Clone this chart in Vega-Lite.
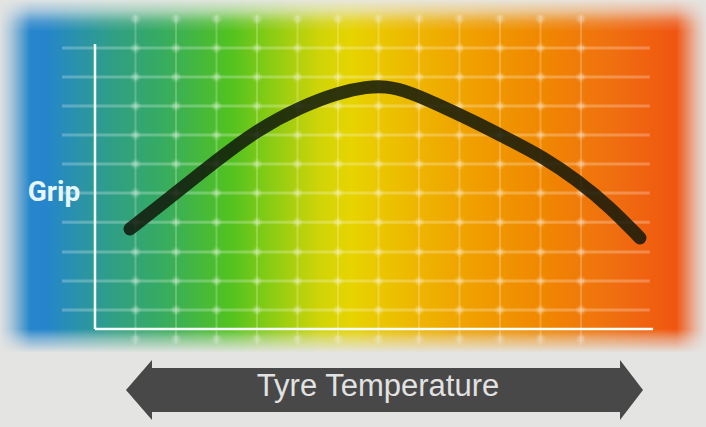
{
  "$schema": "https://vega.github.io/schema/vega-lite/v6.json",
  "width": 706,
  "height": 427,
  "autosize": "none",
  "padding": 0,
  "background": "#e4e4e2",
  "config": {"view": {"stroke": null}},
  "encoding": {
    "x": {"field": "x", "type": "quantitative", "axis": null, "scale": {"domain": [-2.3457, 15.0864], "nice": false, "zero": false}},
    "y": {"field": "y", "type": "quantitative", "axis": null, "scale": {"domain": [-3.3562, 11.2671], "nice": false, "zero": false}}
  },
  "layer": [
    {
      "data": {"values": [{"x": -2.3457, "x2": 15.0864, "y": -0.788, "y2": 11.2671}]},
      "mark": {"type": "rect", "fill": {"gradient": "linear", "x1": 0, "y1": 0, "x2": 1, "y2": 0, "stops": [
        {"offset": 0, "color": "#2a86c8"},
        {"offset": 0.064, "color": "#2585cc"},
        {"offset": 0.113, "color": "#2a93a8"},
        {"offset": 0.156, "color": "#2f9e88"},
        {"offset": 0.227, "color": "#36ab62"},
        {"offset": 0.326, "color": "#52c220"},
        {"offset": 0.382, "color": "#88cc14"},
        {"offset": 0.453, "color": "#d0d408"},
        {"offset": 0.496, "color": "#e6d400"},
        {"offset": 0.581, "color": "#eeb800"},
        {"offset": 0.666, "color": "#f0a000"},
        {"offset": 0.765, "color": "#f08800"},
        {"offset": 0.864, "color": "#f07010"},
        {"offset": 0.977, "color": "#f05010"},
        {"offset": 1, "color": "#f04c10"}
      ]}},
      "encoding": {"x2": {"field": "x2"}, "y2": {"field": "y2"}}
    },
    {
      "data": {"values": [
        {"x": 1, "y": -0.55, "y2": 10.75}, {"x": 2, "y": -0.55, "y2": 10.75}, {"x": 3, "y": -0.55, "y2": 10.75},
        {"x": 4, "y": -0.55, "y2": 10.75}, {"x": 5, "y": -0.55, "y2": 10.75}, {"x": 6, "y": -0.55, "y2": 10.75},
        {"x": 7, "y": -0.55, "y2": 10.75}, {"x": 8, "y": -0.55, "y2": 10.75}, {"x": 9, "y": -0.55, "y2": 10.75},
        {"x": 10, "y": -0.55, "y2": 10.75}, {"x": 11, "y": -0.55, "y2": 10.75}, {"x": 12, "y": -0.55, "y2": 10.75}
      ]},
      "mark": {"type": "rule", "color": "#ffffff", "strokeWidth": 2, "opacity": 0.22},
      "encoding": {"y2": {"field": "y2"}}
    },
    {
      "data": {"values": [
        {"y": 0.65, "x": -0.815, "x2": 13.7}, {"y": 1.64, "x": -0.815, "x2": 13.7}, {"y": 2.64, "x": -0.815, "x2": 13.7},
        {"y": 3.66, "x": -0.815, "x2": 13.7}, {"y": 4.66, "x": -0.815, "x2": 13.7}, {"y": 5.65, "x": -0.815, "x2": 13.7},
        {"y": 6.64, "x": -0.815, "x2": 13.7}, {"y": 7.64, "x": -0.815, "x2": 13.7}, {"y": 8.63, "x": -0.815, "x2": 13.7},
        {"y": 9.62, "x": -0.815, "x2": 13.7}
      ]},
      "mark": {"type": "rule", "color": "#ffffff", "strokeWidth": 3, "opacity": 0.25},
      "encoding": {"x2": {"field": "x2"}}
    },
    {
      "data": {"values": [
        {"x": 1, "ys": [-0.34, 0.65, 1.64, 2.64, 3.66, 4.66, 5.65, 6.64, 7.64, 8.63, 9.62, 10.62]},
        {"x": 2, "ys": [-0.34, 0.65, 1.64, 2.64, 3.66, 4.66, 5.65, 6.64, 7.64, 8.63, 9.62, 10.62]},
        {"x": 3, "ys": [-0.34, 0.65, 1.64, 2.64, 3.66, 4.66, 5.65, 6.64, 7.64, 8.63, 9.62, 10.62]},
        {"x": 4, "ys": [-0.34, 0.65, 1.64, 2.64, 3.66, 4.66, 5.65, 6.64, 7.64, 8.63, 9.62, 10.62]},
        {"x": 5, "ys": [-0.34, 0.65, 1.64, 2.64, 3.66, 4.66, 5.65, 6.64, 7.64, 8.63, 9.62, 10.62]},
        {"x": 6, "ys": [-0.34, 0.65, 1.64, 2.64, 3.66, 4.66, 5.65, 6.64, 7.64, 8.63, 9.62, 10.62]},
        {"x": 7, "ys": [-0.34, 0.65, 1.64, 2.64, 3.66, 4.66, 5.65, 6.64, 7.64, 8.63, 9.62, 10.62]},
        {"x": 8, "ys": [-0.34, 0.65, 1.64, 2.64, 3.66, 4.66, 5.65, 6.64, 7.64, 8.63, 9.62, 10.62]},
        {"x": 9, "ys": [-0.34, 0.65, 1.64, 2.64, 3.66, 4.66, 5.65, 6.64, 7.64, 8.63, 9.62, 10.62]},
        {"x": 10, "ys": [-0.34, 0.65, 1.64, 2.64, 3.66, 4.66, 5.65, 6.64, 7.64, 8.63, 9.62, 10.62]},
        {"x": 11, "ys": [-0.34, 0.65, 1.64, 2.64, 3.66, 4.66, 5.65, 6.64, 7.64, 8.63, 9.62, 10.62]},
        {"x": 12, "ys": [-0.34, 0.65, 1.64, 2.64, 3.66, 4.66, 5.65, 6.64, 7.64, 8.63, 9.62, 10.62]}
      ]},
      "transform": [{"flatten": ["ys"], "as": ["y"]}],
      "layer": [
        {"mark": {"type": "circle", "color": "#ffffff", "size": 110, "opacity": 0.1}},
        {"mark": {"type": "circle", "color": "#ffffff", "size": 40, "opacity": 0.2}}
      ]
    },
    {
      "data": {"values": [
        {"x": 0.864, "y": 3.425}, {"x": 1.778, "y": 4.418}, {"x": 3.012, "y": 5.788}, {"x": 4.0, "y": 6.815},
        {"x": 5.062, "y": 7.603}, {"x": 6.049, "y": 8.116}, {"x": 6.716, "y": 8.288}, {"x": 7.16, "y": 8.322},
        {"x": 7.778, "y": 8.116}, {"x": 8.593, "y": 7.603}, {"x": 9.432, "y": 7.055}, {"x": 10.247, "y": 6.473},
        {"x": 11.062, "y": 5.89}, {"x": 11.901, "y": 5.103}, {"x": 12.716, "y": 4.178}, {"x": 13.457, "y": 3.116}
      ]},
      "mark": {"type": "line", "color": "#10180a", "strokeWidth": 13, "opacity": 0.85, "strokeCap": "round", "interpolate": "basis"}
    },
    {
      "data": {"values": [{"x": -2.3457, "x2": 15.0864, "y": 10.2, "y2": 11.2671}]},
      "mark": {"type": "rect", "fill": {"gradient": "linear", "x1": 0, "y1": 0, "x2": 0, "y2": 1, "stops": [
        {"offset": 0, "color": "rgba(232,232,230,0.95)"},
        {"offset": 0.35, "color": "rgba(232,232,230,0.65)"},
        {"offset": 0.7, "color": "rgba(232,232,230,0.2)"},
        {"offset": 1, "color": "rgba(232,232,230,0)"}
      ]}},
      "encoding": {"x2": {"field": "x2"}, "y2": {"field": "y2"}}
    },
    {
      "data": {"values": [{"x": -2.3457, "x2": 15.0864, "y": -0.79, "y2": 0.0}]},
      "mark": {"type": "rect", "fill": {"gradient": "linear", "x1": 0, "y1": 0, "x2": 0, "y2": 1, "stops": [
        {"offset": 0, "color": "rgba(228,228,226,0)"},
        {"offset": 0.4, "color": "rgba(228,228,226,0.45)"},
        {"offset": 1, "color": "rgba(228,228,226,0.97)"}
      ]}},
      "encoding": {"x2": {"field": "x2"}, "y2": {"field": "y2"}}
    },
    {
      "data": {"values": [{"x": -2.3457, "x2": -1.6, "y": -0.79, "y2": 11.2671}]},
      "mark": {"type": "rect", "fill": {"gradient": "linear", "x1": 0, "y1": 0, "x2": 1, "y2": 0, "stops": [
        {"offset": 0, "color": "rgba(228,228,226,0.97)"},
        {"offset": 0.35, "color": "rgba(228,228,226,0.7)"},
        {"offset": 1, "color": "rgba(228,228,226,0)"}
      ]}},
      "encoding": {"x2": {"field": "x2"}, "y2": {"field": "y2"}}
    },
    {
      "data": {"values": [{"x": 14.35, "x2": 15.0864, "y": -0.79, "y2": 11.2671}]},
      "mark": {"type": "rect", "fill": {"gradient": "linear", "x1": 0, "y1": 0, "x2": 1, "y2": 0, "stops": [
        {"offset": 0, "color": "rgba(228,228,226,0)"},
        {"offset": 0.65, "color": "rgba(228,228,226,0.7)"},
        {"offset": 1, "color": "rgba(228,228,226,0.97)"}
      ]}},
      "encoding": {"x2": {"field": "x2"}, "y2": {"field": "y2"}}
    },
    {
      "data": {"values": [
        {"x": 0, "y": 0, "x2": 0, "y2": 9.76},
        {"x": 0, "y": 0, "x2": 13.78, "y2": 0}
      ]},
      "mark": {"type": "rule", "color": "#f4fff8", "strokeWidth": 2.5},
      "encoding": {"x2": {"field": "x2"}, "y2": {"field": "y2"}}
    },
    {
      "data": {"values": [
        {"x": 0.765, "y": -2.089, "y2": -2.089},
        {"x": 1.407, "y": -1.062, "y2": -3.116},
        {"x": 1.407, "y": -1.336, "y2": -2.842},
        {"x": 12.963, "y": -1.336, "y2": -2.842},
        {"x": 12.963, "y": -1.062, "y2": -3.116},
        {"x": 13.531, "y": -2.089, "y2": -2.089}
      ]},
      "mark": {"type": "area", "color": "#484848", "opacity": 1, "interpolate": "linear"},
      "encoding": {"y2": {"field": "y2"}}
    },
    {
      "data": {"values": [{"x": 6.988, "y": -2.0, "label": "Tyre Temperature"}]},
      "mark": {"type": "text", "font": "Liberation Sans", "fontSize": 31, "color": "#e2e2e2", "align": "center", "baseline": "middle"},
      "encoding": {"text": {"field": "label"}}
    },
    {
      "data": {"values": [{"x": -1.012, "y": 4.658, "label": "Grip"}]},
      "mark": {"type": "text", "font": "Roboto", "fontWeight": "bold", "fontSize": 28, "color": "#e6f6ff", "align": "center", "baseline": "middle"},
      "encoding": {"text": {"field": "label"}}
    }
  ]
}
